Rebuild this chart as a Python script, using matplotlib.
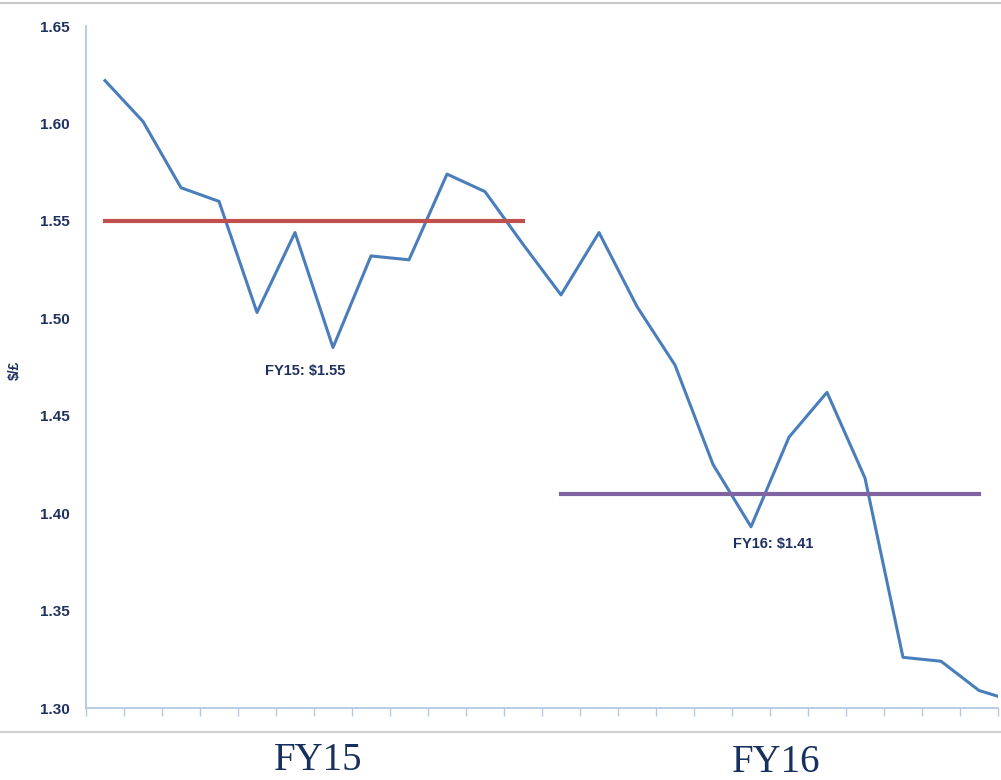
import matplotlib.pyplot as plt
import numpy as np
from matplotlib.lines import Line2D

plt.rcParams['font.family'] = ['Liberation Sans Narrow', 'Liberation Sans', 'DejaVu Sans']

# monthly $/£ rate, FY15 then FY16
rates = [1.622, 1.601, 1.567, 1.560, 1.503, 1.544, 1.485, 1.532, 1.530, 1.574,
         1.565, 1.538, 1.512, 1.544, 1.506, 1.476, 1.425, 1.393, 1.439, 1.462,
         1.418, 1.326, 1.324, 1.309, 1.303]
fy15_avg = 1.55
fy16_avg = 1.41
avg_labels = ['FY15: $1.55', 'FY16: $1.41']
period_labels = ['FY15', 'FY16']
y_ticks = [1.30, 1.35, 1.40, 1.45, 1.50, 1.55, 1.60, 1.65]

navy = '#1F3160'
axis_blue = '#B4C8E4'

fig = plt.figure(figsize=(10.01, 7.8), dpi=100)
ax = fig.add_axes([86 / 1001, 1 - 708 / 780, 912 / 1001, 682 / 780])

x = np.arange(len(rates)) + 0.5
ax.plot(x, rates, color='#4A7EBB', linewidth=2.2, solid_joinstyle='round')
ax.plot([x[0], x[11]], [fy15_avg, fy15_avg], color='#C0504D', linewidth=3)
ax.plot([x[12], x[23]], [fy16_avg, fy16_avg], color='#8064A2', linewidth=3)

ax.text(5.76, 1.473, avg_labels[0], ha='center', va='center', fontsize=10.5,
        fontweight='bold', color=navy)
ax.text(18.08, 1.384, avg_labels[1], ha='center', va='center', fontsize=10.5,
        fontweight='bold', color=navy)

ax.set_xlim(0, 24)
ax.set_ylim(1.30, 1.65)
ax.set_yticks(y_ticks)
ax.set_yticklabels([f'{v:.2f}' for v in y_ticks], fontsize=11, fontweight='bold', color=navy)
ax.set_xticks(np.arange(0, 25))
ax.set_xticklabels([])
ax.tick_params(axis='x', direction='out', length=6, color=axis_blue, width=1)
ax.tick_params(axis='y', length=0, pad=12)
for s in ['top', 'right']:
    ax.spines[s].set_visible(False)
for s in ['left', 'bottom']:
    ax.spines[s].set_color(axis_blue)
    ax.spines[s].set_linewidth(1.3)

fig.text(15 / 1001, 1 - 370 / 780, '$/£', rotation=90, ha='center', va='center',
         fontsize=10, fontweight='bold', color=navy)

# separator lines and period labels
fig.add_artist(Line2D([0, 1], [1 - 3 / 780, 1 - 3 / 780], color='#C8C8C8', linewidth=1.5))
fig.add_artist(Line2D([0, 1], [1 - 732 / 780, 1 - 732 / 780], color='#D0D0D0', linewidth=1.5))
fig.text(318 / 1001, 1 - 760 / 780, period_labels[0], ha='center', va='center',
         fontsize=28, family='Liberation Serif', color='#17305E')
fig.text(776 / 1001, 1 - 762 / 780, period_labels[1], ha='center', va='center',
         fontsize=28, family='Liberation Serif', color='#17305E')

fig.savefig('out.png', dpi=100)
